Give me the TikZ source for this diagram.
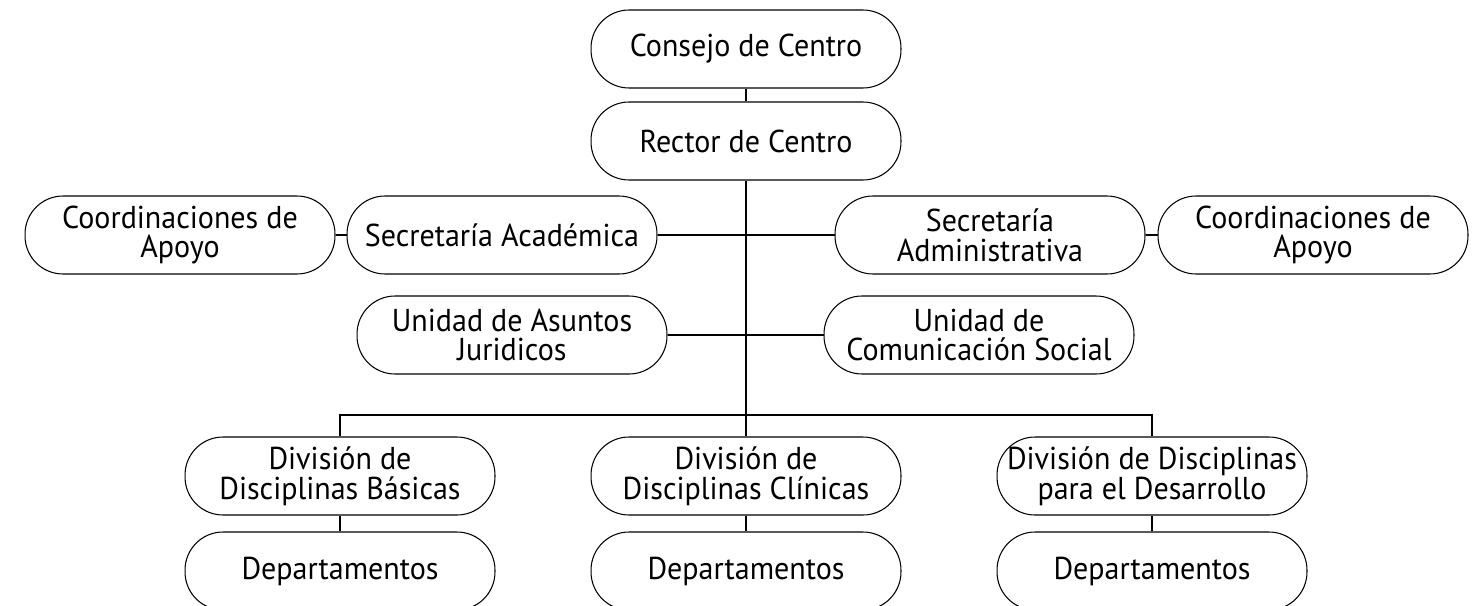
\documentclass[tikz,border=0pt]{standalone}
\usepackage{fontspec}
\setmainfont{PT Sans}[FakeStretch=0.95]
\usetikzlibrary{positioning}
\tikzset {
  unit/.style={draw, rounded corners=0.76cm, minimum width=6.2cm,
    minimum height=1.56cm, inner sep=0pt, align=center, line width=0.6pt,
    font=\fontsize{18}{17}\selectfont},
  link/.style={line width=0.6pt},
}

\begin{document}
\begin{tikzpicture}[x=0.02cm,y=-0.02cm]
  \useasboundingbox (0,0) rectangle (1483,605);
  \clip (0,0) rectangle (1483,605);
  % top of the chart
  \node[unit] (consejo) at (746,49) {Consejo de Centro};
  \node[unit] (rector) at (746,141) {Rector de Centro};
  % secretarias
  \node[unit] (coordL) at (180,235) {Coordinaciones de\\Apoyo};
  \node[unit] (secacad) at (502,235) {Secretaría Académica};
  \node[unit] (secadm) at (990,235) {Secretaría\\Administrativa};
  \node[unit] (coordR) at (1313,235) {Coordinaciones de\\Apoyo};
  % unidades
  \node[unit] (juridicos) at (512,335) {Unidad de Asuntos\\Juridicos};
  \node[unit] (comsoc) at (979,335) {Unidad de\\Comunicación Social};
  % divisiones
  \node[unit] (basicas) at (340,476) {División de\\Disciplinas Básicas};
  \node[unit] (clinicas) at (746,476) {División de\\Disciplinas Clínicas};
  \node[unit] (desarrollo) at (1152,476) {División de Disciplinas\\para el Desarrollo};
  \node[unit] (depA) at (340,571) {Departamentos};
  \node[unit] (depB) at (746,571) {Departamentos};
  \node[unit] (depC) at (1152,571) {Departamentos};
  \coordinate (bus) at (746,415);
  % connectors
  \draw[link] (consejo) -- (rector);
  \draw[link] (rector) -- (bus);
  \draw[link] (coordL) -- (secacad);
  \draw[link] (secacad) -- (secadm);
  \draw[link] (secadm) -- (coordR);
  \draw[link] (juridicos) -- (comsoc);
  \draw[link] (basicas) |- (bus) -| (desarrollo);
  \draw[link] (bus) -- (clinicas);
  \draw[link] (basicas) -- (depA);
  \draw[link] (clinicas) -- (depB);
  \draw[link] (desarrollo) -- (depC);
\end{tikzpicture}
\end{document}
